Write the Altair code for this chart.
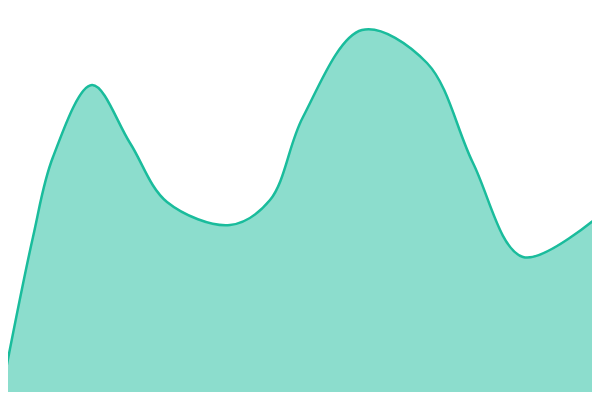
import altair as alt
import pandas as pd

xs = [0, 33, 53, 92, 130, 167, 230, 270, 303, 362, 427, 473, 523, 600]
ys_px = [400, 237, 157, 85, 143, 202, 225, 200, 117, 30, 63, 163, 257, 215]
values = [400 - v for v in ys_px]

df = pd.DataFrame({"x": xs, "v": values})

chart = alt.Chart(df).mark_area(
    interpolate="catmull-rom",
    color="#1abc9c",
    fillOpacity=0.5,
    line={"color": "#1abc9c", "strokeWidth": 2.5},
    clip=True,
).encode(
    x=alt.X("x:Q", scale=alt.Scale(domain=[8, 592], nice=False, zero=False), axis=None),
    y=alt.Y("v:Q", scale=alt.Scale(domain=[8, 392], nice=False, zero=False), axis=None),
).properties(
    width=584, height=384, padding=0, autosize="none"
).configure_view(stroke=None)

chart.save("out.html", embed_options={"renderer": "svg", "actions": False})
